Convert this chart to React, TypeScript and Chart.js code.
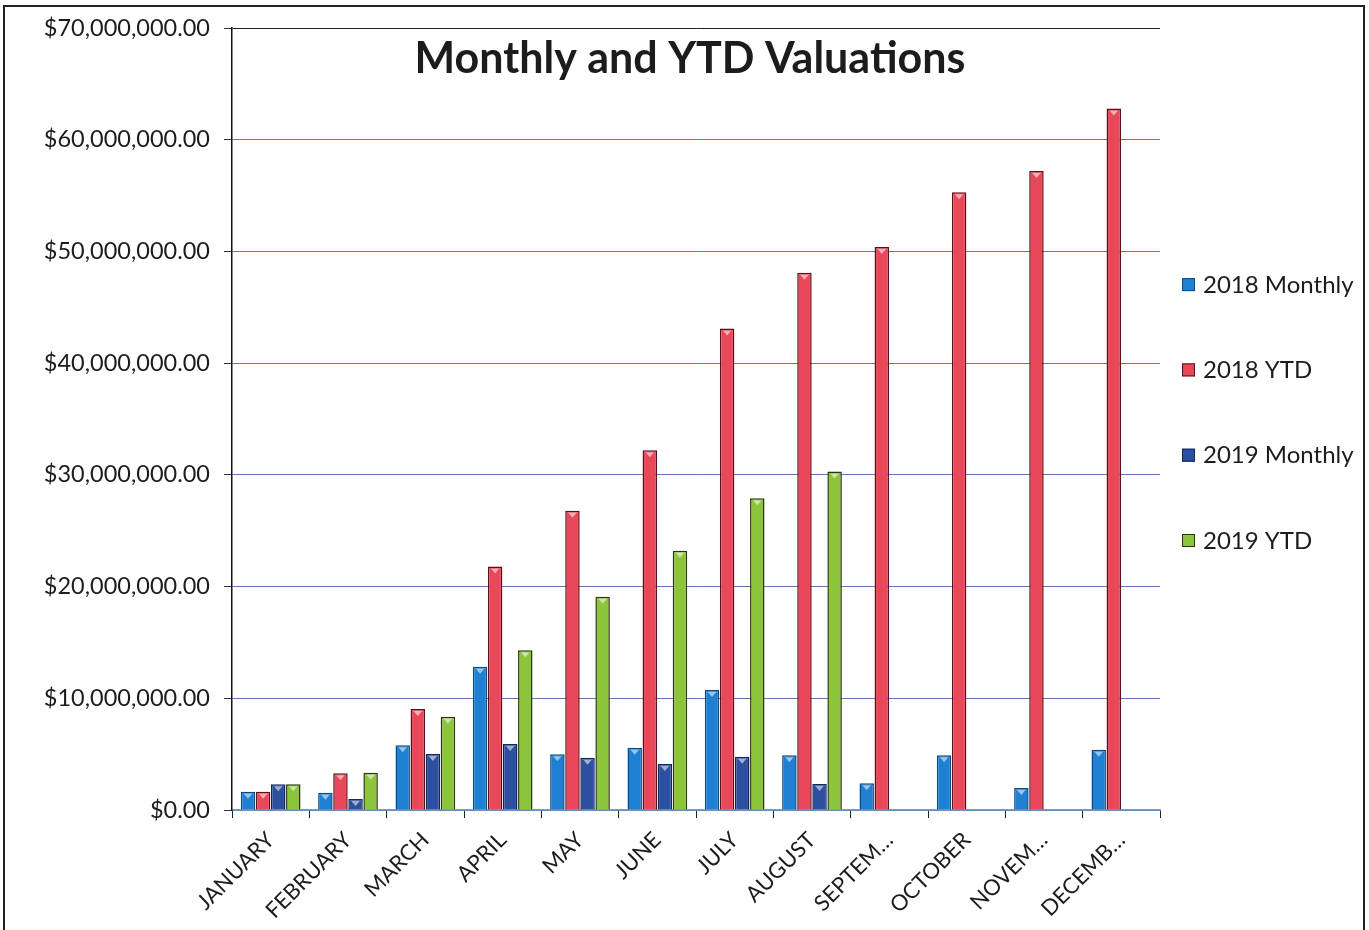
import React, { useEffect, useRef } from "react";
import { Chart, registerables } from "chart.js";

Chart.register(...registerables);

const categories = [
  "JANUARY", "FEBRUARY", "MARCH", "APRIL", "MAY", "JUNE",
  "JULY", "AUGUST", "SEPTEM…", "OCTOBER", "NOVEM…", "DECEMB…",
];

const monthly2018 = [1630000, 1550000, 5790000, 12830000, 4980000, 5580000, 10740000, 4900000, 2390000, 4900000, 1970000, 5400000];
const ytd2018 = [1630000, 3280000, 9040000, 21800000, 26800000, 32200000, 43100000, 48100000, 50400000, 55300000, 57200000, 62800000];
const monthly2019 = [2300000, 980000, 5010000, 5900000, 4680000, 4120000, 4770000, 2330000, null, null, null, null];
const ytd2019 = [2300000, 3340000, 8350000, 14300000, 19100000, 23200000, 27900000, 30300000, null, null, null, null];

const seriesLabels = ["2018 Monthly", "2018 YTD", "2019 Monthly", "2019 YTD"];
const yTicks = [0, 10000000, 20000000, 30000000, 40000000, 50000000, 60000000, 70000000];

const TITLE = "Monthly and YTD Valuations";
const FONT = "Lato, 'Noto Sans', sans-serif";

const fills = ["#1f7fd2", "#e8485a", "#2c4f9f", "#8cc43c"];
const borders = ["#0c4a86", "#5c1018", "#14275a", "#26360e"];

const titlePlugin = {
  id: "insideTitle",
  afterDraw(chart: any) {
    const { ctx, chartArea } = chart;
    ctx.save();
    ctx.font = `bold 43px ${FONT}`;
    ctx.fillStyle = "#1c1c1c";
    ctx.textAlign = "center";
    ctx.textBaseline = "middle";
    ctx.fillText(TITLE, (chartArea.left + chartArea.right) / 2 - 6, chartArea.top + 31);
    ctx.restore();
  },
};

const legendPlugin = {
  id: "sideLegend",
  afterDraw(chart: any) {
    const { ctx, chartArea } = chart;
    const mid = (chartArea.top + chartArea.bottom) / 2 - 6;
    ctx.save();
    ctx.font = `24px ${FONT}`;
    ctx.textBaseline = "middle";
    ctx.textAlign = "left";
    chart.data.datasets.forEach((ds: any, i: number) => {
      const y = mid + (i - 1.5) * 85.3;
      const x = chartArea.right + 22;
      ctx.fillStyle = ds.backgroundColor;
      ctx.fillRect(x, y - 7, 13, 13);
      ctx.strokeStyle = ds.borderColor;
      ctx.lineWidth = 1;
      ctx.strokeRect(x + 0.5, y - 6.5, 12, 12);
      ctx.fillStyle = "#1c1c1c";
      ctx.fillText(ds.label, x + 21, y);
    });
    ctx.restore();
  },
};

const highlightPlugin = {
  id: "barHighlight",
  afterDatasetsDraw(chart: any) {
    const { ctx } = chart;
    ctx.save();
    chart.data.datasets.forEach((_ds: any, i: number) => {
      const meta = chart.getDatasetMeta(i);
      meta.data.forEach((bar: any, j: number) => {
        if (chart.data.datasets[i].data[j] == null) return;
        const w = bar.width;
        const cx = bar.x;
        const top = bar.y;
        ctx.fillStyle = "rgba(255,255,255,0.55)";
        ctx.beginPath();
        ctx.moveTo(cx - w / 2 + 3, top + 2);
        ctx.lineTo(cx + w / 2 - 3, top + 2);
        ctx.lineTo(cx, top + 7);
        ctx.closePath();
        ctx.fill();
      });
    });
    ctx.restore();
  },
};

export default function App() {
  const ref = useRef<HTMLCanvasElement | null>(null);

  useEffect(() => {
    if (!ref.current) return;
    const data = [monthly2018, ytd2018, monthly2019, ytd2019];
    const chart = new Chart(ref.current, {
      type: "bar",
      data: {
        labels: categories,
        datasets: data.map((d, i) => ({
          label: seriesLabels[i],
          data: d,
          backgroundColor: fills[i],
          borderColor: borders[i],
          borderWidth: 1.5,
          categoryPercentage: 0.78,
          barPercentage: 0.96,
        })),
      },
      options: {
        responsive: false,
        animation: false,
        layout: { padding: { top: 28, right: 209, bottom: 0, left: 0 } },
        plugins: {
          legend: { display: false },
          title: { display: false },
          tooltip: { enabled: false },
        },
        scales: {
          x: {
            offset: true,
            grid: {
              display: true,
              drawOnChartArea: false,
              drawTicks: true,
              tickLength: 8,
              color: "#222",
              offset: true,
            },
            border: { color: "#7a9cc8", width: 1.5 },
            ticks: {
              maxRotation: 45,
              minRotation: 45,
              autoSkip: false,
              padding: 9,
              color: "#1c1c1c",
              font: { family: FONT, size: 22 },
            },
            afterFit(scale: any) {
              scale.height = 120;
            },
          },
          y: {
            min: 0,
            max: 70000000,
            afterBuildTicks(scale: any) {
              scale.ticks = yTicks.map((v) => ({ value: v }));
            },
            grid: {
              color: (c: any) => (c.tick && c.tick.value === 70000000 ? "#222" : "#5a7db0"),
              tickColor: "#333",
              tickLength: 8,
              lineWidth: 1,
            },
            border: { color: "#111", width: 1.5 },
            ticks: {
              padding: 14,
              color: "#1c1c1c",
              font: { family: FONT, size: 23.5 },
              callback: (v: any) =>
                "$" + Number(v).toLocaleString("en-US", { minimumFractionDigits: 2, maximumFractionDigits: 2 }),
            },
            afterFit(scale: any) {
              scale.width = 232;
            },
          },
        },
      },
      plugins: [titlePlugin, legendPlugin, highlightPlugin],
    });
    return () => chart.destroy();
  }, []);

  return (
    <div style={{ position: "fixed", left: 0, top: 0, width: 1369, height: 930, background: "#fff", overflow: "hidden" }}>
      <canvas ref={ref} width={1369} height={930} style={{ display: "block", position: "absolute", left: 0, top: 0 }} />
      <div
        style={{
          position: "absolute",
          left: 3,
          top: 5,
          width: 1362,
          height: 940,
          border: "2px solid #222",
          boxSizing: "border-box",
          pointerEvents: "none",
        }}
      />
    </div>
  );
}
